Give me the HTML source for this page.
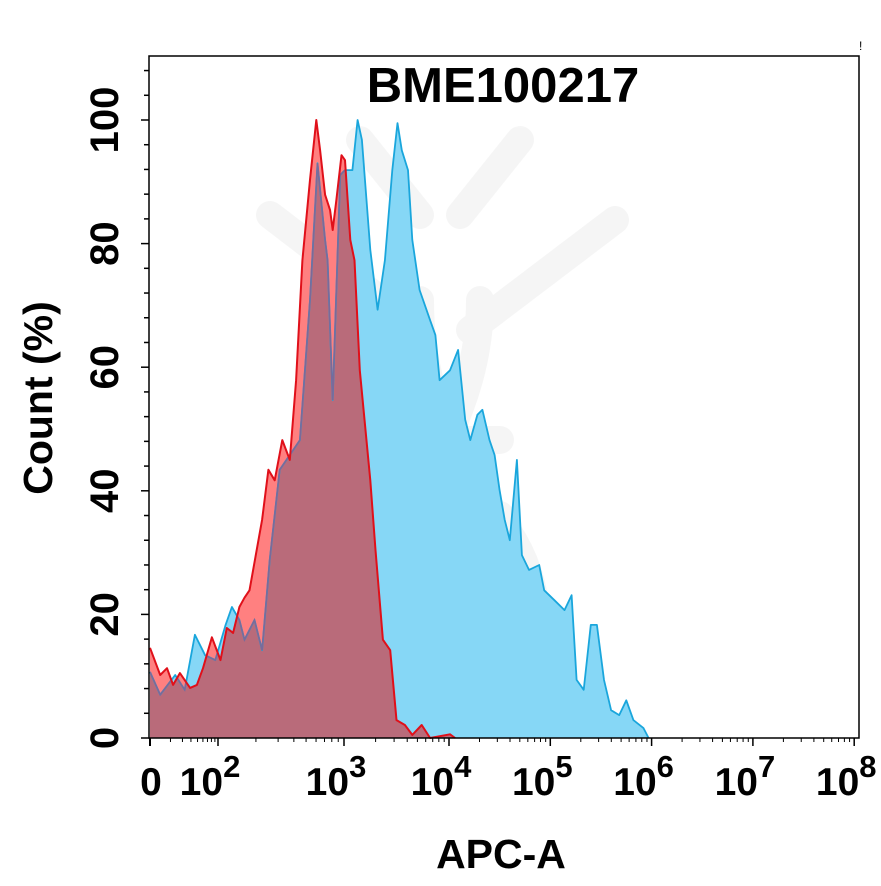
<!DOCTYPE html>
<html><head><meta charset="utf-8"><style>
html,body{margin:0;padding:0;background:#fff;}
svg{display:block;font-family:"Liberation Sans",Arial,sans-serif;font-weight:bold;}
</style></head><body>
<svg id="chart" width="881" height="886" viewBox="0 0 881 886">
<defs><clipPath id="blueClip"><path id="blueClipPath"/></clipPath></defs>
<g id="watermark" opacity="0.035" stroke="#000" stroke-width="28" stroke-linecap="round" fill="none">
<path d="M270 215 L420 330"/><path d="M615 220 L470 330"/><path d="M520 140 L460 215"/><path d="M360 140 L420 215"/>
<path d="M480 300 Q480 420 380 540 Q330 620 380 720"/><path d="M420 300 Q420 420 500 520 Q560 600 520 700"/>
<path d="M380 440 L500 440"/><path d="M400 515 L500 515"/>
</g>
<g id="series"></g>
<g id="axes"></g>
<text x="503" y="102" font-size="49" text-anchor="middle">BME100217</text>
<text x="501" y="868" font-size="41" text-anchor="middle">APC-A</text>
<text transform="translate(52,398) rotate(-90)" font-size="41" text-anchor="middle">Count  (%)</text>
<text x="859" y="50" font-size="12" font-weight="normal">!</text>
</svg>
<script>
const blueX=[1.00,1.15,1.37,1.51,1.66,1.81,1.96,2.06,2.11,2.17,2.21,2.29,2.35,2.41,2.49,2.57,2.65,2.73,2.79,2.85,2.87,2.91,2.97,3.01,3.08,3.13,3.17,3.25,3.32,3.39,3.46,3.51,3.55,3.61,3.65,3.72,3.82,3.87,3.91,4.01,4.09,4.16,4.21,4.28,4.33,4.40,4.45,4.50,4.55,4.60,4.67,4.72,4.79,4.89,4.94,5.04,5.14,5.21,5.26,5.33,5.40,5.46,5.53,5.60,5.68,5.75,5.82,5.92,5.97];
const blueY=[10.7,7.0,10.2,7.8,16.7,13.4,12.6,18.3,21.2,19.1,15.9,19.1,14.2,28.8,43.4,45.8,48.2,70.9,93.0,80.6,77.3,54.7,91.1,91.9,91.9,100,96.8,79,69.3,77.3,91.9,99.5,95.1,91.9,80.6,72.5,67.6,65.2,57.9,59.5,62.8,51.5,48.2,52.3,53.1,48.2,45.8,40.1,35.3,32.0,45.0,29.6,27.2,28.0,23.9,22.3,20.7,23.1,9.4,7.8,18.3,18.3,9.4,4.5,3.7,6.1,2.9,1.6,0];
const redX=[1.00,1.15,1.25,1.34,1.44,1.59,1.69,1.78,1.91,2.02,2.07,2.12,2.17,2.21,2.25,2.35,2.40,2.45,2.51,2.57,2.62,2.67,2.73,2.78,2.81,2.85,2.89,2.91,2.94,2.98,3.01,3.06,3.10,3.15,3.25,3.30,3.37,3.44,3.50,3.58,3.65,3.74,3.82,4.01,4.06];
const redY=[14.6,10.2,11.3,8.6,10.5,8.1,8.6,11.3,16.3,12.6,17.8,17.0,21.2,22.7,23.9,35.3,43.4,41.7,48.2,45.0,57.9,77.3,90.3,100,95.1,87.9,85.4,82.2,87.1,94.3,93.5,80.6,77.3,59.5,41.7,30.4,15.9,14.2,2.9,2.1,0.5,2.1,0,0.6,0];
const yTicks=[0,20,40,60,80,100];
const xDecades=[2,3,4,5,6,7,8];

const NS="http://www.w3.org/2000/svg";
const L=149,R=859,T=56,B=738;
function sx(l){
  if(l<2) return 150+(l-1)*68;
  if(l<3) return 218+(l-2)*126;
  if(l<4) return 344+(l-3)*105;
  return 449+(l-4)*101.3;
}
function sy(v){return B-v*6.18;}
function mk(tag,attrs,parent){const e=document.createElementNS(NS,tag);for(const k in attrs)e.setAttribute(k,attrs[k]);parent.appendChild(e);return e;}
function areaPath(xs,ys){let d="M"+sx(xs[0])+","+B;for(let i=0;i<xs.length;i++)d+=" L"+sx(xs[i]).toFixed(1)+","+sy(ys[i]).toFixed(1);d+=" L"+sx(xs[xs.length-1])+","+B+" Z";return d;}
function linePath(xs,ys){let d="";for(let i=0;i<xs.length;i++)d+=(i?" L":"M")+sx(xs[i]).toFixed(1)+","+sy(ys[i]).toFixed(1);return d;}

const series=document.getElementById("series");
const axes=document.getElementById("axes");
const bArea=areaPath(blueX,blueY), rArea=areaPath(redX,redY);
document.getElementById("blueClipPath").setAttribute("d",bArea);
const rc=mk("clipPath",{id:"redClip"},document.querySelector("defs"));
mk("path",{d:rArea},rc);

const bf=mk("path",{d:bArea,fill:"#7fd5f5","fill-opacity":"0.95"},series);


const rf=mk("path",{d:rArea,fill:"#ff8080"},series);


const of=mk("path",{d:rArea,fill:"#b96b7a","clip-path":"url(#blueClip)"},series);


const bl=mk("path",{d:linePath(blueX,blueY),fill:"none",stroke:"#1aa6dc","stroke-width":"1.8","stroke-linejoin":"round"},series);


const bl2=mk("path",{d:linePath(blueX,blueY),fill:"none",stroke:"#7a6a9a","stroke-width":"1.6","clip-path":"url(#redClip)"},series);


const rl=mk("path",{d:linePath(redX,redY),fill:"none",stroke:"#e0101a","stroke-width":"2","stroke-linejoin":"round"},series);



const frame=mk("rect",{x:L,y:T,width:R-L,height:B-T,fill:"none",stroke:"#000","stroke-width":"1.5"},axes);


for(let v=0;v<=110;v+=4){
  const major=v%20===0;
  const t=mk("line",{x1:L-(major?8:5),x2:L,y1:sy(v),y2:sy(v),stroke:"#000","stroke-width":"1.5"},axes);
  
  
}
yTicks.forEach(v=>{
  const t=mk("text",{transform:"translate(118,"+sy(v)+") rotate(-90)","font-size":"40","text-anchor":"middle"},axes);
  t.textContent=v;
  
  
});
const xt0=mk("line",{x1:150,x2:150,y1:B,y2:B+8,stroke:"#000","stroke-width":"2"},axes);


xDecades.forEach(d=>{
  const t=mk("line",{x1:sx(d),x2:sx(d),y1:B,y2:B+8,stroke:"#000","stroke-width":"1.5"},axes);
  
  
  if(d<8){for(let k=2;k<10;k++){const m=mk("line",{x1:sx(d+Math.log10(k)),x2:sx(d+Math.log10(k)),y1:B,y2:B+4,stroke:"#000","stroke-width":"1"},axes);
    
    }}
  const lab=mk("text",{x:sx(d)-8,y:795,"font-size":"39","text-anchor":"middle"},axes);
  
  
  lab.appendChild(document.createTextNode("10"));
  const sup=mk("tspan",{dy:"-18","font-size":"31"},lab);
  sup.textContent=d;
});
for(let k=2;k<10;k++){const m=mk("line",{x1:150+Math.log10(k)*68,x2:150+Math.log10(k)*68,y1:B,y2:B+4,stroke:"#000","stroke-width":"1"},axes);
  
  }
const z=mk("text",{x:151,y:795,"font-size":"39","text-anchor":"middle"},axes);
z.textContent="0";


</script>
</body></html>
